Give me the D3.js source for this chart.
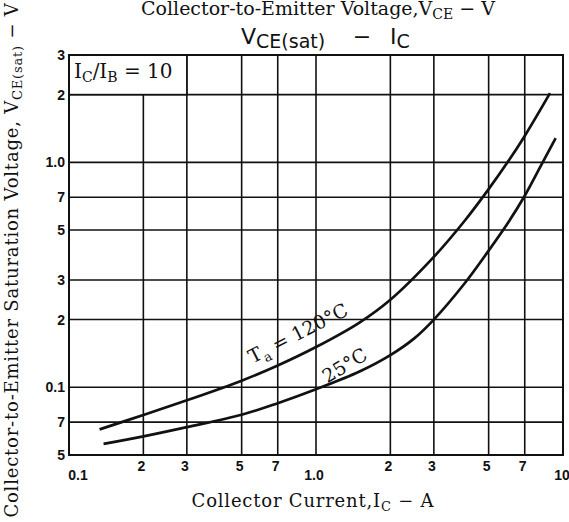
<!DOCTYPE html>
<html lang="en">
<head>
    <meta charset="UTF-8">
    <title>VCE(sat) - IC</title>
    <script src="https://d3js.org/d3.v7.min.js"></script>
</head>
<style>
    body {
        margin: 0;
        background: #fff;
    }
    svg {
        display: block;
    }
    .serif {
        font-family: "DejaVu Serif", "Liberation Serif", serif;
        fill: #111;
    }
    .sans {
        font-family: "DejaVu Sans", "Liberation Sans", sans-serif;
        fill: #111;
    }
    .tick-label {
        font-family: "Liberation Sans", "DejaVu Sans", sans-serif;
        font-weight: bold;
        font-size: 14px;
        fill: #111;
    }
</style>
<body>
<div class="chart"></div>
<script>
  /** data */
  var xTickValues = [0.1, 0.2, 0.3, 0.5, 0.7, 1, 2, 3, 5, 7, 10];
  var xTickLabels = ['0.1', '2', '3', '5', '7', '1.0', '2', '3', '5', '7', '10'];
  var yTickValues = [3, 2, 1, 0.7, 0.5, 0.3, 0.2, 0.1, 0.07, 0.05];
  var yTickLabels = ['3', '2', '1.0', '7', '5', '3', '2', '0.1', '7', '5'];

  // Ta = 120 C
  var hotIc   = [0.133, 0.2, 0.3, 0.5, 0.7, 1.0, 1.5, 2.0, 3.0, 4.0, 5.0, 6.0, 7.0, 8.86];
  var hotVce  = [0.065, 0.0753, 0.0875, 0.107, 0.125, 0.151, 0.194, 0.245, 0.38, 0.55, 0.76, 1.01, 1.31, 2.03];
  // Ta = 25 C
  var roomIc  = [0.138, 0.2, 0.3, 0.5, 0.7, 1.0, 1.5, 2.0, 2.5, 3.0, 4.0, 5.0, 6.0, 7.0, 8.07, 9.34];
  var roomVce = [0.056, 0.0605, 0.0665, 0.0755, 0.085, 0.098, 0.1175, 0.139, 0.165, 0.2, 0.29, 0.405, 0.54, 0.71, 0.95, 1.28];

  var width = 569, height = 522;
  var plotLeft = 69, plotRight = 563, plotTop = 55, plotBottom = 455;

  var svg = d3.select('.chart').append('svg')
    .attr('width', width)
    .attr('height', height);

  var x = d3.scaleLog().domain([0.1, 10]).range([plotLeft, plotRight]);
  var y = d3.scaleLog().domain([0.05, 3]).range([plotBottom, plotTop]);

  /** grid */
  svg.append('g').selectAll('line')
    .data(xTickValues.slice(1, -1))
    .enter().append('line')
    .attr('x1', function (d) { return x(d); })
    .attr('x2', function (d) { return x(d); })
    .attr('y1', plotTop)
    .attr('y2', plotBottom)
    .attr('stroke', '#111')
    .attr('stroke-width', 1.6);

  svg.append('g').selectAll('line')
    .data(yTickValues.slice(1, -1))
    .enter().append('line')
    .attr('x1', plotLeft)
    .attr('x2', plotRight)
    .attr('y1', function (d) { return y(d); })
    .attr('y2', function (d) { return y(d); })
    .attr('stroke', '#111')
    .attr('stroke-width', 1.6);

  /** legend box covering the top left cell */
  svg.append('rect')
    .attr('x', x(0.1))
    .attr('y', y(3))
    .attr('width', x(0.3) - x(0.1))
    .attr('height', y(2) - y(3))
    .attr('fill', '#fff')
    .attr('stroke', '#111')
    .attr('stroke-width', 1.6);

  var box = svg.append('text')
    .attr('class', 'serif')
    .attr('x', x(0.1) + 5)
    .attr('y', y(3) + 23)
    .style('font-size', '20px');
  box.append('tspan').text('I');
  box.append('tspan').attr('dy', 4).style('font-size', '14px').text('C');
  box.append('tspan').attr('dy', -4).text('/I');
  box.append('tspan').attr('dy', 4).style('font-size', '14px').text('B');
  box.append('tspan').attr('dy', -4).text(' = 10');

  /** frame */
  svg.append('rect')
    .attr('x', plotLeft)
    .attr('y', plotTop)
    .attr('width', plotRight - plotLeft)
    .attr('height', plotBottom - plotTop)
    .attr('fill', 'none')
    .attr('stroke', '#111')
    .attr('stroke-width', 2);

  /** curves */
  var line = d3.line()
    .x(function (d) { return x(d[0]); })
    .y(function (d) { return y(d[1]); })
    .curve(d3.curveCatmullRom.alpha(0.5));

  [[hotIc, hotVce], [roomIc, roomVce]].forEach(function (s) {
    svg.append('path')
      .datum(d3.zip(s[0], s[1]))
      .attr('d', line)
      .attr('fill', 'none')
      .attr('stroke', '#111')
      .attr('stroke-width', 2.7);
  });

  /** curve labels */
  var hotLabel = svg.append('text')
    .attr('class', 'serif')
    .attr('transform', 'translate(301,339) rotate(-27)')
    .attr('text-anchor', 'middle')
    .style('font-size', '19px');
  hotLabel.append('tspan').text('T');
  hotLabel.append('tspan').attr('dy', 5).style('font-size', '13px').text('a');
  hotLabel.append('tspan').attr('dy', -5).text(' = 120°C');

  svg.append('text')
    .attr('class', 'serif')
    .attr('transform', 'translate(348,371) rotate(-31)')
    .attr('text-anchor', 'middle')
    .style('font-size', '19px')
    .text('25°C');

  /** tick labels */
  svg.append('g').selectAll('text')
    .data(yTickValues)
    .enter().append('text')
    .attr('class', 'tick-label')
    .attr('x', plotLeft - 4)
    .attr('y', function (d) { return y(d) + 5; })
    .attr('text-anchor', 'end')
    .text(function (_, i) { return yTickLabels[i]; });

  svg.append('g').selectAll('text')
    .data(xTickValues)
    .enter().append('text')
    .attr('class', 'tick-label')
    .attr('x', function (d, i) {
      if (i === 0) return x(d) + 9;
      if (i === xTickValues.length - 1) return x(d) - 1;
      return x(d) - 2;
    })
    .attr('y', function (d, i) {
      var label = xTickLabels[i];
      return (label.length > 1) ? plotBottom + 25 : plotBottom + 16;
    })
    .attr('text-anchor', 'middle')
    .text(function (_, i) { return xTickLabels[i]; });

  /** title: VCE(sat) - IC */
  var titleLeft = svg.append('text')
    .attr('class', 'sans')
    .attr('x', 241)
    .attr('y', 44)
    .style('font-size', '22px');
  titleLeft.append('tspan').text('V');
  titleLeft.append('tspan').attr('dy', 4).style('font-size', '19px').text('CE(sat)');

  svg.append('text')
    .attr('class', 'sans')
    .attr('x', 362)
    .attr('y', 44)
    .attr('text-anchor', 'middle')
    .style('font-size', '22px')
    .text('−');

  var titleRight = svg.append('text')
    .attr('class', 'sans')
    .attr('x', 390)
    .attr('y', 44)
    .style('font-size', '22px');
  titleRight.append('tspan').text('I');
  titleRight.append('tspan').attr('dy', 4).style('font-size', '19px').text('C');

  /** cut-off label from the chart above */
  var topLabel = svg.append('text')
    .attr('class', 'serif')
    .attr('x', 318)
    .attr('y', 15)
    .attr('text-anchor', 'middle')
    .style('font-size', '19px');
  topLabel.append('tspan').text('Collector-to-Emitter Voltage,V');
  topLabel.append('tspan').attr('dy', 4).style('font-size', '14px').text('CE');
  topLabel.append('tspan').attr('dy', -4).text(' − V');

  /** axis titles */
  var xTitle = svg.append('text')
    .attr('class', 'serif')
    .attr('x', 313)
    .attr('y', 507)
    .attr('text-anchor', 'middle')
    .style('font-size', '18px')
    .style('letter-spacing', '0.8px');
  xTitle.append('tspan').text('Collector Current,I');
  xTitle.append('tspan').attr('dy', 4).style('font-size', '13px').text('C');
  xTitle.append('tspan').attr('dy', -4).text(' − A');

  var yTitle = svg.append('text')
    .attr('class', 'serif')
    .attr('transform', 'translate(18,260) rotate(-90)')
    .attr('text-anchor', 'middle')
    .style('font-size', '18px')
    .style('letter-spacing', '0.8px');
  yTitle.append('tspan').text('Collector-to-Emitter Saturation Voltage, V');
  yTitle.append('tspan').attr('dy', 4).style('font-size', '13px').text('CE(sat)');
  yTitle.append('tspan').attr('dy', -4).text(' − V');
</script>
</body>
</html>
